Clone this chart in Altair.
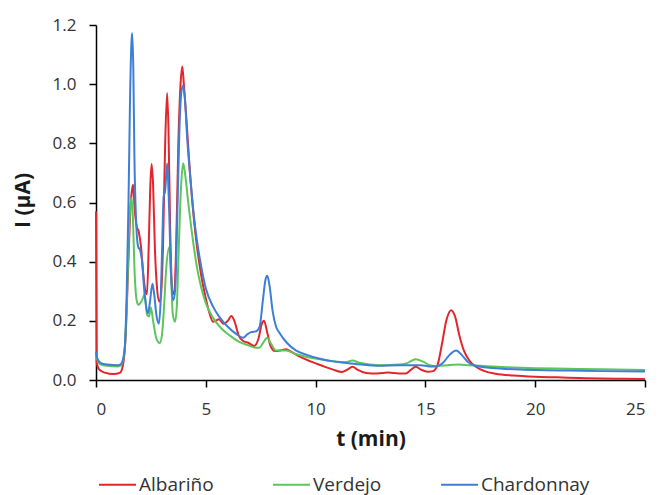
import altair as alt
import pandas as pd

series_names = ["Albariño", "Verdejo", "Chardonnay"]
series_colors = ["#E3262B", "#5CC65C", "#3D7FD6"]

alb_t = [0, 0.03, 0.15, 0.4, 0.8, 1.1, 1.25, 1.35, 1.45, 1.55, 1.62, 1.69, 1.76, 1.85, 1.95, 2.05, 2.15, 2.25, 2.32, 2.4, 2.47, 2.53, 2.6, 2.68, 2.78, 2.88, 2.95, 3.05, 3.15, 3.24, 3.3, 3.38, 3.48, 3.56, 3.65, 3.75, 3.85, 3.93, 4.0, 4.1, 4.28, 4.45, 4.6, 4.8, 4.96, 5.15, 5.33, 5.45, 5.6, 5.8, 6.0, 6.16, 6.3, 6.5, 6.7, 6.95, 7.2, 7.4, 7.55, 7.65, 7.8, 7.95, 8.15, 8.4, 8.65, 8.9, 9.3, 9.8, 10.3, 10.8, 11.2, 11.45, 11.68, 11.9, 12.3, 12.8, 13.3, 13.8, 14.1, 14.35, 14.55, 14.8, 15.1, 15.35, 15.55, 15.75, 15.95, 16.17, 16.35, 16.55, 16.75, 17.0, 17.3, 17.7, 18.2, 19.0, 20.0, 21.0, 22.0, 23.0, 24.0, 25.0]
alb_i = [0.57, 0.06, 0.035, 0.025, 0.02, 0.025, 0.06, 0.15, 0.35, 0.55, 0.63, 0.66, 0.58, 0.52, 0.5, 0.45, 0.36, 0.3, 0.29, 0.45, 0.65, 0.73, 0.66, 0.45, 0.31, 0.265, 0.28, 0.45, 0.8, 0.97, 0.85, 0.5, 0.3, 0.29, 0.45, 0.8, 1.0, 1.06, 1.0, 0.9, 0.7, 0.55, 0.45, 0.35, 0.29, 0.23, 0.197, 0.2, 0.205, 0.19, 0.2, 0.216, 0.2, 0.15, 0.132, 0.125, 0.115, 0.14, 0.19, 0.2, 0.16, 0.115, 0.098, 0.1, 0.104, 0.095, 0.078, 0.062, 0.048, 0.035, 0.027, 0.035, 0.045, 0.035, 0.024, 0.022, 0.025, 0.022, 0.022, 0.035, 0.045, 0.035, 0.028, 0.03, 0.05, 0.12, 0.2, 0.236, 0.215, 0.15, 0.1, 0.066, 0.045, 0.03, 0.021, 0.015, 0.011, 0.009, 0.007, 0.005, 0.004, 0.003]

ver_t = [0, 0.05, 0.2, 0.5, 1.0, 1.15, 1.3, 1.4, 1.5, 1.58, 1.62, 1.68, 1.75, 1.85, 1.93, 2.1, 2.22, 2.33, 2.42, 2.5, 2.6, 2.75, 2.9, 3.0, 3.1, 3.2, 3.34, 3.42, 3.5, 3.6, 3.68, 3.77, 3.87, 3.97, 4.05, 4.2, 4.4, 4.6, 4.8, 5.0, 5.33, 5.7, 6.1, 6.5, 6.9, 7.2, 7.44, 7.6, 7.8, 7.95, 8.2, 8.65, 9.1, 9.6, 10.2, 10.8, 11.37, 11.68, 12.0, 12.9, 13.8, 14.2, 14.55, 14.9, 15.2, 15.5, 16.0, 16.5, 17.0, 17.5, 18.5, 20.0, 21.5, 23.0, 25.0]
ver_i = [0.085, 0.07, 0.053, 0.048, 0.046, 0.05, 0.1, 0.25, 0.5, 0.6, 0.615, 0.55, 0.38, 0.27, 0.254, 0.27, 0.29, 0.22, 0.215, 0.245, 0.2, 0.14, 0.125, 0.15, 0.25, 0.38, 0.45, 0.35, 0.22, 0.197, 0.25, 0.45, 0.65, 0.733, 0.7, 0.6, 0.48, 0.38, 0.31, 0.26, 0.21, 0.175, 0.15, 0.13, 0.118, 0.11, 0.109, 0.125, 0.143, 0.125, 0.1, 0.1, 0.088, 0.078, 0.07, 0.063, 0.06, 0.066, 0.058, 0.05, 0.052, 0.058, 0.07, 0.062, 0.05, 0.047, 0.05, 0.052, 0.05, 0.048, 0.044, 0.04, 0.038, 0.036, 0.034]

cha_t = [0, 0.05, 0.2, 0.5, 1.0, 1.15, 1.3, 1.4, 1.48, 1.55, 1.62, 1.65, 1.7, 1.75, 1.82, 1.92, 2.0, 2.1, 2.2, 2.3, 2.37, 2.45, 2.57, 2.65, 2.75, 2.86, 2.95, 3.03, 3.08, 3.15, 3.24, 3.32, 3.42, 3.52, 3.6, 3.7, 3.8, 3.9, 3.97, 4.05, 4.15, 4.3, 4.45, 4.6, 4.8, 5.0, 5.33, 5.6, 6.0, 6.4, 6.7, 6.9, 7.06, 7.3, 7.45, 7.6, 7.72, 7.8, 7.9, 8.05, 8.2, 8.35, 8.7, 9.1, 9.6, 10.2, 10.8, 11.37, 12.0, 12.9, 13.8, 14.3, 14.8, 15.2, 15.5, 15.8, 16.1, 16.4, 16.65, 16.95, 17.27, 17.8, 18.5, 19.5, 20.5, 21.5, 23.0, 25.0]
cha_i = [0.096, 0.075, 0.058, 0.052, 0.05, 0.055, 0.1, 0.3, 0.6, 0.95, 1.15, 1.172, 1.05, 0.75, 0.55, 0.45, 0.44, 0.4, 0.3, 0.24, 0.226, 0.26, 0.325, 0.29, 0.22, 0.19, 0.28, 0.5, 0.62, 0.64, 0.733, 0.6, 0.35, 0.27, 0.3, 0.55, 0.85, 0.98, 0.995, 0.95, 0.82, 0.68, 0.56, 0.47, 0.38, 0.31, 0.248, 0.215, 0.18, 0.155, 0.143, 0.155, 0.162, 0.165, 0.18, 0.27, 0.34, 0.352, 0.32, 0.23, 0.18, 0.16, 0.125, 0.1, 0.085, 0.072, 0.063, 0.058, 0.053, 0.048, 0.05, 0.05, 0.05, 0.046, 0.046, 0.058, 0.085, 0.1, 0.085, 0.06, 0.048, 0.042, 0.038, 0.035, 0.033, 0.032, 0.03, 0.029]

frames = []
for name, ts, vs in zip(series_names, [alb_t, ver_t, cha_t], [alb_i, ver_i, cha_i]):
    frames.append(pd.DataFrame({"t": ts, "I": vs, "wine": name}))

font = "Open Sans"

color = alt.Color(
    "wine:N",
    scale=alt.Scale(domain=series_names, range=series_colors),
    legend=alt.Legend(
        title=None,
        orient="none",
        legendX=2,
        legendY=440,
        direction="horizontal",
        symbolType="stroke",
        symbolSize=1369,
        symbolStrokeWidth=2,
        labelFont=font,
        labelFontSize=19,
        labelColor="#333333",
        labelOffset=2,
        columnPadding=55,
    ),
)

xenc = alt.X(
    "t:Q",
    scale=alt.Scale(domain=[0, 25], nice=False),
    axis=alt.Axis(
        values=[0, 5, 10, 15, 20, 25],
        title="t (min)",
        titleY=65,
        titleBaseline="alphabetic",
        labelPadding=14,
    ),
)
yenc = alt.Y(
    "I:Q",
    scale=alt.Scale(domain=[0, 1.2], nice=False),
    axis=alt.Axis(
        values=[0, 0.2, 0.4, 0.6, 0.8, 1.0, 1.2],
        format=".1f",
        title="I (µA)",
        titleX=-67,
        titleY=175,
        titleAngle=-90,
        titleAlign="center",
        titleBaseline="alphabetic",
        labelPadding=13,
    ),
)

layers = [
    alt.Chart(df).mark_line(strokeWidth=2, interpolate="monotone").encode(x=xenc, y=yenc, color=color)
    for df in frames
]

chart = (
    alt.layer(*layers)
    .properties(
        width=549,
        height=355,
        autosize=alt.AutoSizeParams(type="none"),
        padding={"left": 88, "top": 17, "right": 5, "bottom": 120},
    )
    .configure_view(stroke=None)
    .configure_axis(
        grid=False,
        domainColor="#000000",
        domainWidth=1.5,
        tickColor="#000000",
        tickWidth=1.5,
        tickSize=7,
        labelFont=font,
        labelFontSize=17,
        labelColor="#333333",
        titleFont=font,
        titleFontSize=21,
        titleFontWeight="bold",
        titleColor="#1a1a1a",
    )
)

chart.save("out.html", embed_options={"renderer": "svg", "actions": False})
